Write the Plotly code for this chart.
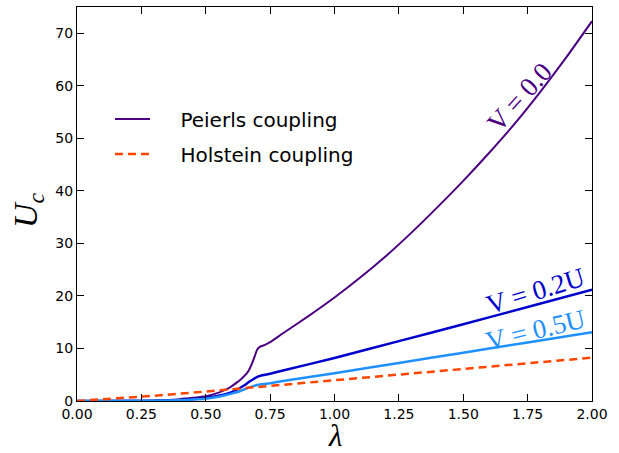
import plotly.graph_objects as go

# Peierls coupling, V = 0.0
lam_p0 = [0.0, 0.2, 0.3, 0.4, 0.45, 0.5, 0.55, 0.58, 0.6, 0.62, 0.64, 0.66, 0.67, 0.68, 0.69, 0.70,
          0.71, 0.72, 0.73, 0.75, 0.8, 0.9, 1.0, 1.1, 1.2, 1.3, 1.4, 1.5, 1.6, 1.7, 1.8, 1.9, 2.0]
uc_p0 = [0.0, 0.03, 0.1, 0.35, 0.6, 0.9, 1.6, 2.2, 2.8, 3.5, 4.3, 5.3, 6.1, 7.2, 8.5, 9.8,
         10.3, 10.5, 10.7, 11.2, 12.9, 16.2, 19.7, 23.5, 27.6, 32.1, 36.9, 41.9, 47.2, 52.8, 58.9, 65.4, 72.3]

# Peierls coupling, V = 0.2U
lam_p2 = [0.0, 0.3, 0.4, 0.45, 0.5, 0.55, 0.6, 0.63, 0.65, 0.67, 0.69, 0.70, 0.72, 0.75, 0.8, 1.0, 1.25, 1.5, 1.75, 2.0]
uc_p2 = [0.0, 0.05, 0.2, 0.35, 0.6, 1.0, 1.7, 2.4, 3.0, 3.7, 4.3, 4.6, 4.9, 5.2, 5.8, 8.2, 11.4, 14.6, 17.9, 21.2]

# Peierls coupling, V = 0.5U
lam_p5 = [0.0, 0.3, 0.4, 0.45, 0.5, 0.55, 0.6, 0.63, 0.65, 0.67, 0.7, 0.72, 0.75, 0.8, 1.0, 1.25, 1.5, 1.75, 2.0]
uc_p5 = [0.0, 0.03, 0.15, 0.28, 0.45, 0.8, 1.4, 1.8, 2.2, 2.6, 3.05, 3.2, 3.4, 3.8, 5.3, 7.25, 9.2, 11.15, 13.1]

# Holstein coupling
lam_h = [0.0, 0.1, 0.2, 0.3, 0.5, 0.75, 1.0, 1.25, 1.5, 1.75, 2.0]
uc_h = [0.0, 0.3, 0.6, 1.0, 1.8, 2.9, 3.95, 5.0, 6.1, 7.2, 8.25]

x_ticks = [0.0, 0.25, 0.5, 0.75, 1.0, 1.25, 1.5, 1.75, 2.0]
x_ticklabels = ["0.00", "0.25", "0.50", "0.75", "1.00", "1.25", "1.50", "1.75", "2.00"]
y_ticks = [0, 10, 20, 30, 40, 50, 60, 70]

# curve labels: text, x, y, angle, colour
curve_labels = [
    ("V = 0.0", 1.72, 57.8, -48, "#4B0082"),
    ("V = 0.2U", 1.78, 20.9, -17, "#0000CD"),
    ("V = 0.5U", 1.78, 13.6, -13.5, "#1E90FF"),
]

PAD = "\u00a0\u00a0\u00a0\u00a0"

fig = go.Figure()
fig.add_trace(go.Scatter(x=lam_p0, y=uc_p0, mode="lines", name=PAD + "Peierls coupling",
                         line=dict(color="#4B0082", width=2, shape="spline", smoothing=0.5),
                         legendgroup="a"))
fig.add_trace(go.Scatter(x=lam_p2, y=uc_p2, mode="lines", showlegend=False,
                         line=dict(color="#0000CD", width=2.5, shape="spline", smoothing=0.5)))
fig.add_trace(go.Scatter(x=lam_p5, y=uc_p5, mode="lines", showlegend=False,
                         line=dict(color="#1E90FF", width=2.5, shape="spline", smoothing=0.5)))
fig.add_trace(go.Scatter(x=lam_h, y=uc_h, mode="lines", name=PAD + "Holstein coupling",
                         line=dict(color="#FF4500", width=2.5, dash="8px,5px"), legendgroup="b"))

for txt, x, y, ang, col in curve_labels:
    fig.add_annotation(x=x, y=y, text=txt, showarrow=False, textangle=ang,
                       xanchor="center", yanchor="middle",
                       font=dict(family="Liberation Serif", size=27, color=col))

fig.add_annotation(xref="paper", yref="paper", x=0.5, y=-0.088, text="<i>λ</i>",
                   xanchor="center", yanchor="middle",
                   showarrow=False, font=dict(family="Liberation Serif", size=31, color="black"))
fig.add_annotation(xref="paper", yref="paper", x=-0.095, y=0.485, text="<i>U<sub>c</sub></i>",
                   xanchor="center", yanchor="middle",
                   showarrow=False, textangle=-90,
                   font=dict(family="Liberation Serif", size=34, color="black"))

axis_common = dict(showline=True, linecolor="black", linewidth=1, mirror="ticks",
                   ticks="inside", ticklen=7, tickcolor="black", tickwidth=1,
                   showgrid=False, zeroline=False,
                   tickfont=dict(family="DejaVu Sans", size=14, color="black"))
fig.update_xaxes(range=[0, 2], tickvals=x_ticks, ticktext=x_ticklabels, **axis_common)
fig.update_yaxes(range=[0, 75], tickvals=y_ticks, **axis_common)

fig.update_layout(
    width=619, height=453,
    margin=dict(l=77, r=27, t=7, b=52),
    plot_bgcolor="white", paper_bgcolor="white",
    showlegend=True,
    legend=dict(x=0.064, y=0.765, xanchor="left", yanchor="top",
                bgcolor="rgba(0,0,0,0)", borderwidth=0, tracegroupgap=6, itemwidth=35,
                font=dict(family="DejaVu Sans", size=20, color="black")),
)

fig.write_html("out.html")
